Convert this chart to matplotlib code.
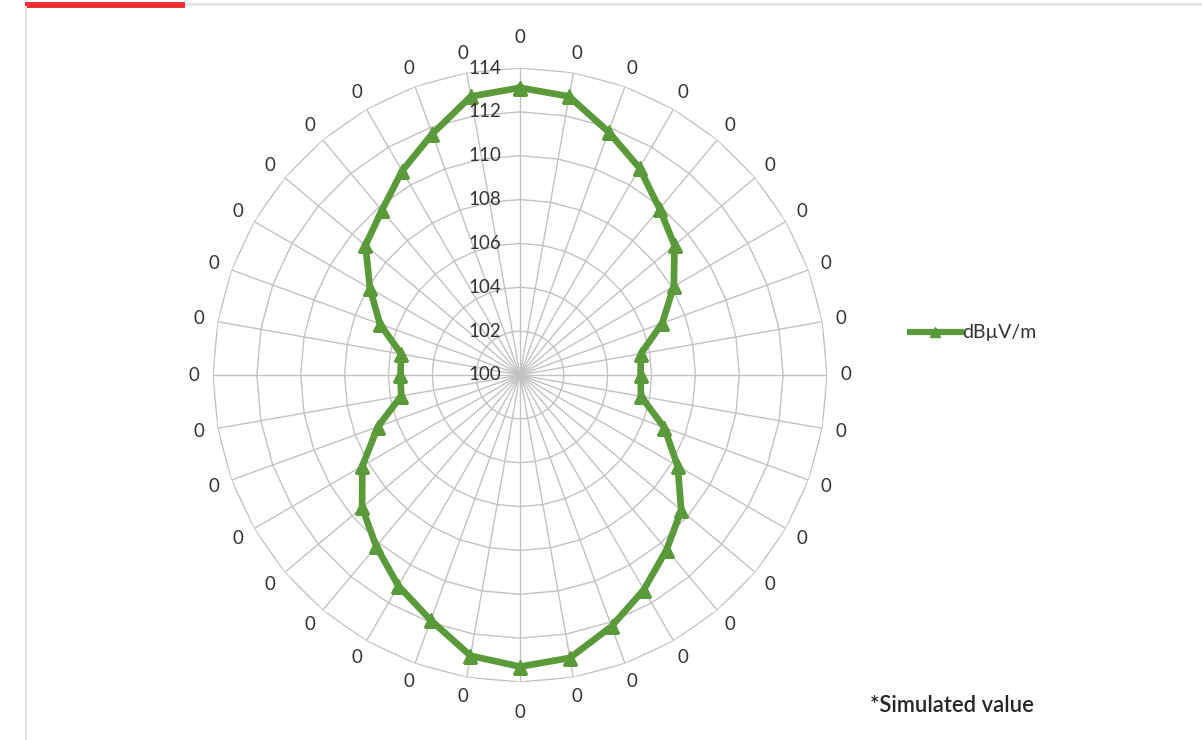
import numpy as np
import matplotlib
matplotlib.use("Agg")
import matplotlib.pyplot as plt
from matplotlib.patches import Rectangle
from matplotlib.lines import Line2D

plt.rcParams['font.family'] = ['Lato', 'DejaVu Sans']

# ---- data ----
angles_deg = list(range(0, 360, 10))
category_labels = ["0"] * 36
values = [113.1, 112.9, 111.8, 110.9, 109.9, 109.2, 108.1, 106.9, 105.6,
          105.5, 105.6, 107.0, 108.3, 109.6, 110.4, 111.3, 112.2, 113.1,
          113.3, 113.0, 111.9, 111.1, 110.2, 109.4, 108.3, 106.9, 105.5,
          105.45, 105.5, 106.8, 107.9, 109.2, 109.8, 110.75, 111.7, 112.9]
r_ticks = [100, 102, 104, 106, 108, 110, 112, 114]
series_name = "dBµV/m"
note = "*Simulated value"

W, H = 1202, 740
fig = plt.figure(figsize=(W / 100, H / 100), dpi=100)
fig.patch.set_facecolor("white")

# page frame decoration
fig.add_artist(Rectangle((25 / W, 1 - 6 / H), 1 - 25 / W, 3 / H, transform=fig.transFigure,
                         facecolor="#e4e4e4", edgecolor="none"))
fig.add_artist(Rectangle((25 / W, 1 - 8 / H), 160 / W, 6 / H, transform=fig.transFigure,
                         facecolor="#ef3131", edgecolor="none"))
fig.add_artist(Rectangle((25 / W, 0), 2 / W, 1 - 6 / H, transform=fig.transFigure,
                         facecolor="#e2e2e2", edgecolor="none"))

cx, cy, R = 520, 375, 307
ax = fig.add_axes([(cx - R) / W, (H - cy - R) / H, 2 * R / W, 2 * R / H], projection="polar")
ax.set_theta_zero_location("N")
ax.set_theta_direction(-1)
ax.set_ylim(100, 114)
ax.set_facecolor("none")

theta = np.deg2rad(angles_deg)
ax.set_xticks(theta)
ax.set_xticklabels([])
ax.set_yticks(r_ticks)
ax.set_yticklabels([])
ax.xaxis.grid(True, color="#c2c2c2", linewidth=1.0)
ax.yaxis.grid(False)
ax.spines["polar"].set_visible(False)
ax.tick_params(length=0)

# polygon gridlines (Excel radar style)
tc = np.append(theta, theta[0])
for rv in r_ticks:
    ax.plot(tc, [rv] * len(tc), color="#c2c2c2", linewidth=1.0, zorder=1)

txt_color = "#333333"
# category labels
for a, t, lab in zip(angles_deg, theta, category_labels):
    rr = 115.41 if a in (0, 180) else 114.87
    ax.text(t, rr, lab, ha="center", va="center", fontsize=13.5,
            color=txt_color, clip_on=False)

# radial labels
for rv in r_ticks:
    ax.annotate(str(rv), xy=(0, rv), xytext=(-19, 0), textcoords="offset pixels",
                ha="right", va="center", fontsize=13.5, color=txt_color,
                annotation_clip=False, zorder=5)

vc = values + [values[0]]
green = "#5b9a3b"
ax.plot(tc, vc, color=green, linewidth=4.8, marker="^", markersize=10.5,
        markerfacecolor=green, markeredgecolor=green, zorder=4, label=series_name)

handle = Line2D([], [], color=green, linewidth=4.5, marker="^", markersize=7,
                markerfacecolor=green, markeredgecolor=green)
fig.legend([handle], [series_name], loc="center left",
           bbox_to_anchor=(910 / W, 1 - 333 / H), frameon=False, fontsize=14,
           handlelength=2.6, handletextpad=0.1, borderaxespad=0, borderpad=0,
           labelcolor=txt_color)

fig.text(870 / W, 1 - 705 / H, note, ha="left", va="center", fontsize=15.8,
         fontweight="semibold", color="#262626")

fig.savefig("out.png", dpi=100, facecolor="white")
